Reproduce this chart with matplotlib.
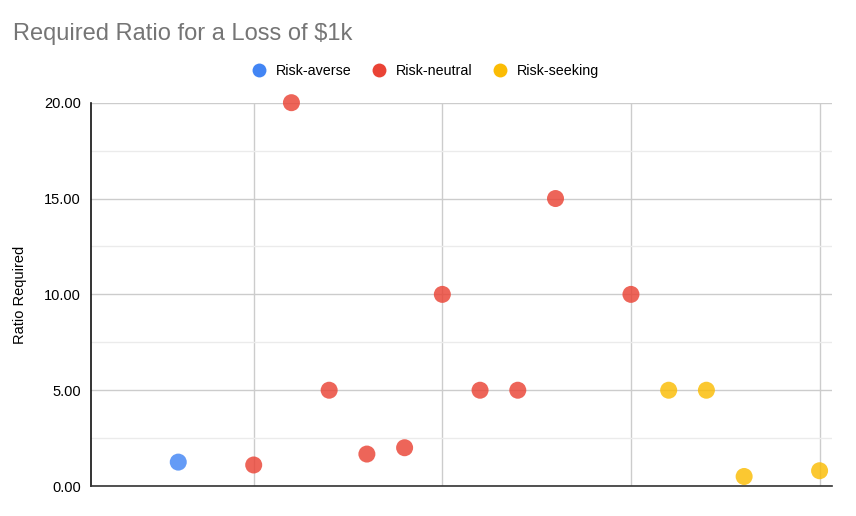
import numpy as np
import matplotlib
matplotlib.use("Agg")
import matplotlib.pyplot as plt
from matplotlib.lines import Line2D

plt.rcParams['font.family'] = ['Liberation Sans', 'DejaVu Sans']

# data
averse_x = [3]
averse_y = [1.25]
neutral_x = [5, 6, 7, 8, 9, 10, 11, 12, 13, 15]
neutral_y = [1.1, 20, 5, 1.67, 2, 10, 5, 5, 15, 10]
seeking_x = [16, 17, 18, 20]
seeking_y = [5, 5, 0.5, 0.8]

labels = ['Risk-averse', 'Risk-neutral', 'Risk-seeking']
colors = ['#4285F4', '#EA4335', '#FBBC04']

fig = plt.figure(figsize=(8.56, 5.16), dpi=100)
ax = fig.add_axes([0.106, 0.058, 0.866, 0.743])

series = [(averse_x, averse_y), (neutral_x, neutral_y), (seeking_x, seeking_y)]
for (xs, ys), c in zip(series, colors):
    ax.scatter(xs, ys, s=150, color=c, alpha=0.82, edgecolors='none', zorder=3, clip_on=False)

ax.set_xlim(0.68, 20.33)
ax.set_ylim(0, 20)
ax.set_yticks([0, 5, 10, 15, 20])
ax.set_yticklabels(['%.2f' % v for v in [0, 5, 10, 15, 20]], fontsize=10.5)
ax.set_yticks([2.5, 7.5, 12.5, 17.5], minor=True)
ax.set_xticks([5, 10, 15, 20])
ax.set_xticklabels([])
ax.tick_params(axis='both', which='both', length=0)
ax.tick_params(axis='y', pad=7)

ax.grid(True, which='major', color='#cccccc', linewidth=1)
ax.grid(True, which='minor', axis='y', color='#ebebeb', linewidth=1)
ax.set_axisbelow(True)

for s in ['top', 'right']:
    ax.spines[s].set_visible(False)
ax.spines['left'].set_color('#111111')
ax.spines['left'].set_linewidth(1.2)
ax.spines['bottom'].set_color('#333333')
ax.spines['bottom'].set_linewidth(1.2)

ax.set_ylabel('Ratio Required', fontsize=10.5)
ax.yaxis.set_label_coords(-0.086, 0.5)

fig.text(0.015, 0.935, 'Required Ratio for a Loss of $1k', fontsize=17, color='#757575', va='center')

handles = [Line2D([], [], marker='o', linestyle='none', markersize=10, color=c, markeredgewidth=0) for c in colors]
fig.legend(handles, labels, loc='center', bbox_to_anchor=(0.497, 0.863), ncol=3, frameon=False,
           fontsize=10.3, handlelength=1.0, handletextpad=0.69, columnspacing=1.39)

fig.savefig('out.png', dpi=100)
